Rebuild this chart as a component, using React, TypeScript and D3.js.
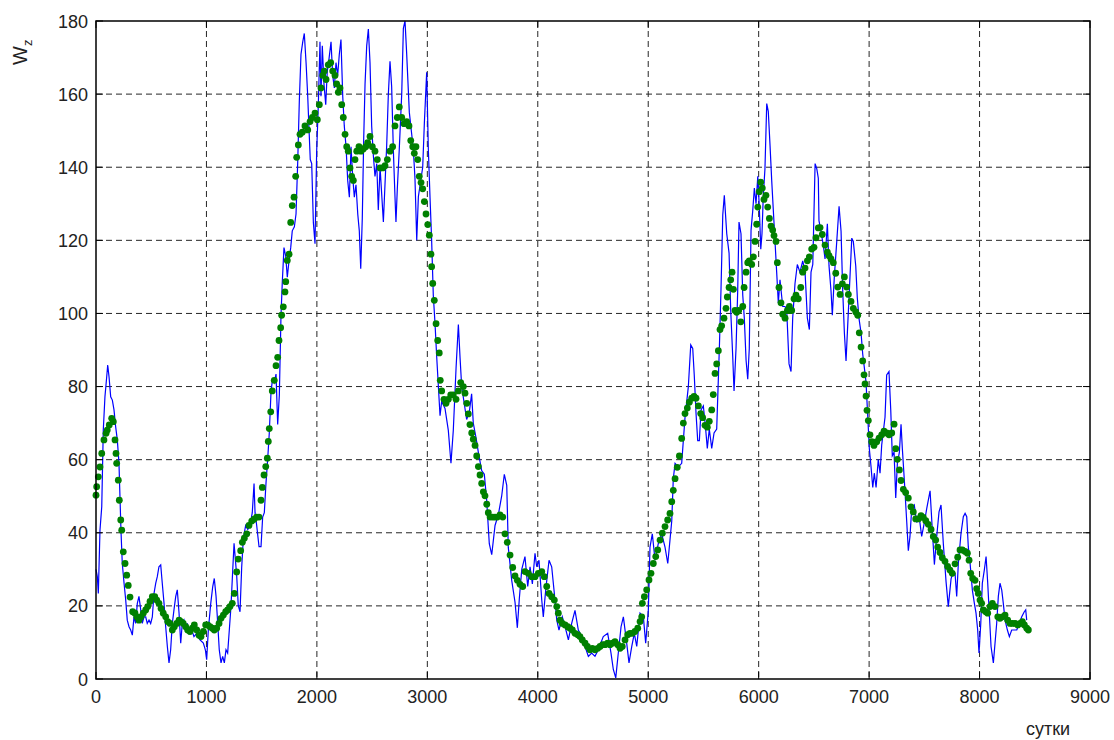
import React from 'react';
import * as d3 from 'd3';

// Blue series: [day, Wz]
const blueSeries: [number, number][] = [
[0,30],[12,28],[21,23.4],[36,40.7],[52,47.1],[66,68.1],[81,77.2],[97,82.7],[106,85.9],[118,82.7],[133,77.2],[148,76.3],[163,73.6],[178,69],[193,65.4],[208,59],[217,49.9],[226,40.7],[238,31.6],[254,26.2],[269,21.6],[283,16.1],[299,14.3],[314,13.4],[329,12],[344,17],[359,15.2],[374,20.7],[389,22.6],[405,18.9],[419,15.2],[435,17],[450,17],[464,15.2],[480,16.1],[495,15.2],[510,17],[525,23.4],[541,26.2],[555,28],[570,30.7],[586,31.2],[600,26.2],[616,20.7],[631,14.3],[646,8.9],[661,4.4],[676,8],[691,15.2],[706,18.9],[722,22.6],[736,24.4],[752,18],[767,9.8],[781,15.2],[797,16.1],[812,13.4],[827,15.2],[842,12.5],[867,13.4],[887,11.6],[912,12.5],[942,10.7],[972,9.8],[990,8],[1002,5.3],[1017,13.4],[1039,20.7],[1057,25.3],[1071,27.5],[1087,22.6],[1102,15.2],[1116,8],[1132,4.4],[1147,6.2],[1162,4.4],[1177,8],[1192,7.1],[1207,13.4],[1222,19.8],[1238,29.8],[1250,37.1],
[1274,28.2],[1288,20.1],[1304,18.4],[1319,30.5],[1334,38.5],[1355,42],[1374,40.9],[1394,42],[1415,45.5],[1431,53.5],[1440,45.5],[1455,42],[1476,36.2],[1494,36.2],[1509,44.3],[1524,45.5],[1539,53.5],[1555,60.4],[1569,67.3],[1585,78.8],[1600,82.3],[1614,81.1],[1630,83.4],[1645,69.6],[1660,77.7],[1675,99.5],[1687,108.7],[1702,118],[1718,115.6],[1732,109.9],[1748,114.5],[1763,118],[1777,122.6],[1796,123.7],[1811,127.2],[1826,141],[1841,158.2],[1856,170.9],[1872,174.3],[1886,176.6],[1902,168.6],[1917,159.4],[1929,150.2],[1940,142.1],[1953,141],[1968,124.9],[1983,119.1],[1998,144.4],[2013,157.1],[2028,174.3],[2037,159.4],[2049,173.2],[2064,162.8],[2080,157.1],[2094,166.3],[2110,169.7],[2128,174.3],[2143,165.1],[2158,161.7],[2173,168.6],[2188,165.1],[2203,170.9],[2218,174.9],[2234,159.4],[2248,151.3],[2264,145.6],[2279,136.4],[2294,131.8],[2309,145.6],[2324,137.5],[2339,131.8],[2354,135.2],[2370,127.2],[2384,122.6],[2397,112.2],[2411,126],[2424,147.9],[2436,162.8],[2451,173.2],[2466,177.8],[2481,168.6],[2496,151.3],[2511,143.3],[2526,137.5],[2542,141],[2556,128.3],
[2572,140],[2602,125],[2632,146],[2647,160],[2662,169],[2677,162],[2692,145],[2707,132],[2716,125],[2728,134],[2746,145],[2768,160],[2783,178],[2798,180],[2813,171],[2837,155],[2873,145],[2888,137],[2904,120],[2919,132],[2958,140],[2973,152],[2994,166],[3009,145],[3024,132],[3039,120],[3054,105],[3070,97],[3085,88],[3100,80],[3115,72],[3130,76],[3160,74],[3190,68],[3214,59],[3235,68],[3260,85],[3281,97],[3296,88],[3311,80],[3341,74],[3356,71],[3380,73],[3401,78],[3416,70],[3441,66],[3462,62],[3492,57],[3516,56],[3537,49],[3561,37],[3583,34],[3613,42],[3643,45],[3673,50],[3697,56],[3719,53],[3733,36],[3764,27],[3794,21],[3815,14],[3833,22],[3855,30],
[3884,33.5],[3909,25.3],[3930,30.7],[3951,26],[3975,34.4],[3990,30.7],[4011,32.5],[4036,21.6],[4050,17],[4072,24.4],[4102,32.5],[4126,30.7],[4150,23.4],[4172,16.1],[4192,13.4],[4222,17],[4247,14.3],[4277,10.7],[4307,15.2],[4337,18.8],[4367,13.4],[4398,11.6],[4428,8.9],[4458,6.2],[4488,7.1],[4518,6.2],[4548,8],[4593,11.6],[4633,12.5],[4663,7.1],[4684,2.6],[4706,0.3],[4729,7.1],[4754,14.3],[4775,17],[4805,9.8],[4826,4.4],[4851,8.9],[4874,12.5],[4896,8.9],[4926,18],[4956,17],[4977,9.8],[5001,18.8],[5016,36.1],[5037,39.7],[5062,32.5],[5091,37],[5122,39.7],[5152,36.1],[5177,31.6],
[5197,38],[5213,43.2],[5227,54.8],[5243,59],[5273,58],[5303,59],[5333,71.5],[5363,79.9],[5385,91.4],[5403,90.4],[5417,83],[5433,72.6],[5448,65.2],[5463,65.2],[5478,73.6],[5499,74.7],[5517,69.4],[5535,63.1],[5553,68.4],[5575,63.1],[5596,67.3],[5620,68.4],[5644,90.4],[5659,106.6],[5675,127],[5689,132.3],[5711,121.8],[5732,116.5],[5747,100.8],[5765,88.3],[5777,78.8],[5795,90.4],[5810,106],[5822,125],[5840,121.8],[5856,105],[5870,98.7],[5886,87.2],[5901,82],[5915,90.4],[5931,122.8],[5946,128],[5961,134.3],[5976,130],[5992,137.5],[6006,129],[6019,117.6],[6030,121.8],[6042,132.3],[6057,139.6],[6073,157.4],[6087,155.3],[6103,145.9],[6118,136.4],[6133,128],[6148,119.7],[6163,111.3],[6178,102.9],[6193,109.2],[6218,101.9],[6239,101.9],[6254,100.8],[6275,86.2],[6293,84.1],[6308,98.7],[6329,108.2],[6350,113.4],[6374,111.3],[6399,114.4],[6420,111.3],[6441,98.7],[6459,95.6],[6474,111.3],[6490,113.4],[6511,141],[6526,139.6],
[6540,137],[6546,125.4],[6564,122.5],[6585,118.7],[6601,114.9],[6622,124.5],[6637,113],[6655,106.2],[6667,99.5],[6685,110],[6707,119.7],[6728,129.3],[6746,122.5],[6761,106.2],[6776,94.7],[6791,87],[6806,96.6],[6821,106.2],[6843,120.6],[6857,119.7],[6879,113],[6893,104.3],[6909,98.5],[6927,94.7],[6942,88.9],[6957,85.1],[6972,81.2],[6988,71.6],[7002,63],[7017,58.2],[7033,52.4],[7047,56.3],[7063,52.4],[7083,60.1],[7099,56.3],[7114,64],[7129,67.8],[7144,71.6],[7159,83.2],[7180,84.1],[7196,73.5],[7210,61.1],[7226,62],[7241,49.5],[7256,59.1],[7274,62],[7289,69.7],[7301,63],[7319,54.3],[7341,42.8],[7355,35.1],[7370,39],[7386,46.7],[7409,47.6],[7431,42.8],[7452,44.7],[7476,39],[7500,42.8],[7522,46.7],[7552,51.5],[7572,40.9],[7591,31.3],[7612,39],[7633,45.7],[7651,47.6],[7672,37],[7697,26.5],[7717,19.8],[7742,27.4],[7763,29.4],
[7778,28.9],[7793,22.6],[7808,31.7],[7832,39.8],[7853,44.4],[7869,45.3],[7884,44.4],[7898,36.2],[7914,31.7],[7935,24.3],[7953,20.7],[7968,18],[7983,13.4],[7995,7.1],[8011,15.2],[8025,26.2],[8043,29.8],[8059,33.5],[8074,26.2],[8088,18],[8104,8.9],[8125,4.4],[8140,9.8],[8155,15.2],[8170,22.6],[8185,26.2],[8201,24.3],[8215,20.7],[8231,16.1],[8252,13.4],[8270,11.6],[8291,13.4],[8315,13.4],[8337,13.4],[8360,15.2],[8382,17],[8405,18.4],[8418,18.9],[8427,16.1]
];

// Green smoothed series: [day, Wz]
const greenSeries: [number, number][] = [
[0,50.3],[6,52.6],[21,55.3],[36,58],[52,61.7],[72,65.4],[91,67.2],[102,68.1],[120,69.5],[142,71.3],[157,70.4],[172,65.4],[181,61.7],[187,59],[202,54.4],[211,48.9],[224,43.5],[233,40.7],[247,34.8],[263,31.6],[278,28.4],[292,25.6],[308,22.4],[332,18.4],[353,18],[369,17],[389,16.1],[407,17],[428,18],[450,18.9],[468,19.8],[489,21.2],[510,22.5],[532,22.5],[550,21.6],[570,20.7],[589,19.3],[609,18],[631,17],[649,15.7],[670,15.2],[691,13.4],[709,14.3],[731,15.2],[752,16.1],[770,15.7],[790,15.2],[812,14.3],[830,13.4],[851,13],[872,13.9],[890,14.8],[912,13.4],[933,12],[951,11.6],[972,13],[993,14.8],[1011,14.8],[1032,14.3],[1053,13.9],[1071,13.4],[1093,13.9],[1114,15.2],[1132,16.6],[1153,17.5],[1174,18.4],[1192,18.9],[1213,19.8],[1234,20.7],[1252,23.4],
[1274,29.3],[1288,32.8],[1310,35.1],[1325,37.4],[1343,38.5],[1365,39.7],[1385,42],[1410,43.2],[1431,43.7],[1455,44.3],[1476,44.3],[1494,48.9],[1506,52.4],[1521,55.8],[1537,58.1],[1551,60.4],[1560,65],[1569,68.5],[1582,73.1],[1596,78.8],[1614,81.7],[1630,85.7],[1645,88],[1657,92.6],[1672,96.1],[1681,99.5],[1696,101.8],[1711,105.9],[1718,108.7],[1732,114.5],[1748,116.2],[1763,124.9],[1777,129.5],[1793,131.8],[1808,137.5],[1817,142.7],[1832,146.1],[1847,149],[1868,149.6],[1892,151.3],[1917,150.2],[1938,152.5],[1959,153.6],[1983,154.8],[2004,153],[2022,157.1],[2037,161.7],[2053,165.1],[2067,166.3],[2083,164],[2103,168],[2125,168.6],[2143,166.3],[2164,165.1],[2179,162.8],[2194,160.5],[2209,161.7],[2225,157.1],[2239,153.6],[2255,149],[2270,145.6],[2284,144.4],[2300,139.8],[2315,137.5],[2330,136.4],[2345,142.1],[2361,144.4],[2381,145.6],[2399,144.4],[2420,145],[2442,145.6],[2460,146.7],[2481,148.4],[2502,145.6],[2526,144.4],[2547,142.1],
[2572,139.8],[2596,139.8],[2617,140.4],[2638,142.1],[2662,144.4],[2686,145.6],[2707,151.3],[2728,153.6],[2746,156.5],[2768,153.6],[2789,151.9],[2813,152.5],[2834,151.3],[2850,147.3],[2868,145.6],[2882,143.8],[2897,145.6],[2913,142.1],[2927,137.5],[2943,135.8],[2958,134.1],[2973,130.6],[2988,127.2],[3004,124.3],[3018,121.4],[3033,116.2],[3039,112.8],[3049,108.2],[3063,103.6],[3079,97.2],[3094,92.6],[3108,89.2],[3117,81.7],[3130,78.8],[3151,76.5],[3169,75.4],[3190,76.5],[3212,77.7],[3235,77.7],[3260,76.5],[3281,78.8],[3302,81.1],[3326,80],[3341,78.2],[3357,75.4],[3371,72.5],[3386,69.6],[3402,67.3],[3416,65.6],[3432,63.9],[3447,61],[3462,58.1],[3477,55.8],[3492,53.5],[3507,51.2],[3522,50.1],[3538,47.8],[3552,45.5],[3568,44.3],[3592,44.3],[3613,44.3],[3634,44.3],[3658,44.9],[3683,44.3],[3703,39.7],[3724,37.4],[3749,33.9],[3773,30.5],[3794,28.2],[3815,27],[3839,25.9],[3864,25.3],
[3884,29.4],[3914,28.9],[3945,28],[3975,28],[4005,28.9],[4036,29.4],[4059,28],[4081,25.3],[4102,23.4],[4126,22.5],[4150,21.6],[4172,19.8],[4186,18],[4201,16.1],[4222,15.2],[4247,14.8],[4271,14.3],[4292,13.9],[4313,13.4],[4337,12.5],[4362,12.1],[4382,11.6],[4403,10.7],[4428,9.8],[4449,8.9],[4473,8],[4494,8.4],[4518,8],[4543,8.4],[4564,8.9],[4588,9.4],[4609,9.4],[4633,9.8],[4654,9.4],[4675,9.8],[4699,10.2],[4724,9.4],[4745,8.4],[4765,8.9],[4790,10.7],[4814,12.1],[4835,12.5],[4856,12.5],[4880,13],[4905,13.9],[4926,15.7],[4941,17],[4947,20.7],[4965,22.5],[4986,24.4],[5007,27.1],[5025,28.9],[5046,31.6],[5068,33.5],[5086,35.3],[5107,38],[5128,39.9],[5152,41.7],[5176,43.5],
[5197,45.3],[5213,48.5],[5227,51.6],[5243,54.8],[5263,57.9],[5282,61],[5303,65.8],[5318,70],[5333,72.6],[5354,74.1],[5372,75.7],[5394,76.8],[5415,77.3],[5433,76.8],[5454,74.7],[5475,72.6],[5493,71.5],[5514,69.4],[5535,68.9],[5553,70.5],[5575,73.6],[5589,77.8],[5605,83.6],[5620,86.2],[5635,89.8],[5650,95.6],[5665,96.6],[5686,98.7],[5704,101.4],[5716,104.5],[5732,107.1],[5747,109.2],[5759,111.3],[5771,106.6],[5786,100.8],[5801,100.3],[5819,100.8],[5838,97.7],[5856,101.9],[5868,107.1],[5886,111.3],[5901,113.9],[5915,114.4],[5937,113.4],[5952,115.5],[5967,119.7],[5982,124.4],[5992,129.1],[6006,133.3],[6019,135.9],[6033,134.3],[6048,131.2],[6066,132.3],[6082,129.1],[6097,126],[6112,123.9],[6127,122.8],[6139,121.3],[6157,119.7],[6169,113.9],[6184,107.1],[6202,102.9],[6218,99.8],[6239,98.7],[6260,100.8],[6278,101.9],[6299,100.8],[6320,104],[6338,105],[6359,104],[6381,107.1],[6399,111.3],[6420,112.4],[6441,114.4],[6459,115.5],[6480,117.6],[6501,118.1],[6519,120.7],[6540,123.4],
[6556,123.5],[6576,121.6],[6601,118.7],[6622,116.8],[6637,115.8],[6655,114.9],[6676,113.9],[6698,111],[6716,107.2],[6737,105.2],[6758,108.1],[6776,110],[6797,107.2],[6812,105.2],[6836,103.3],[6857,101.4],[6879,100.4],[6897,99.5],[6911,94.7],[6927,90.8],[6942,87],[6954,83.2],[6963,80.7],[6972,77.4],[6981,73.5],[6993,70.7],[7008,66.8],[7024,64.9],[7044,63.9],[7069,64.9],[7090,65.9],[7114,66.8],[7135,67.8],[7159,67.3],[7180,66.8],[7205,67.3],[7226,69.7],[7241,63],[7256,60.1],[7274,57.2],[7289,54.3],[7310,51.9],[7331,51],[7355,49.5],[7379,47.1],[7400,45.7],[7422,43.8],[7446,43.8],[7470,44.7],[7491,44.2],[7513,43.3],[7536,42.3],[7561,40.9],[7581,39],[7603,38],[7621,36.1],[7642,34.6],[7663,33.2],[7687,32.2],[7711,30.8],[7732,29.8],[7753,28.9],
[7778,31.5],[7802,33.3],[7823,35.3],[7844,35.3],[7869,34.9],[7890,34.4],[7905,32.5],[7920,28.9],[7938,27.5],[7959,27],[7974,24.7],[7989,23.4],[8004,21.6],[8019,20.7],[8034,18.9],[8056,18.4],[8074,18],[8095,19.8],[8116,20.7],[8140,19.8],[8165,17],[8185,16.6],[8206,17],[8231,17.5],[8255,16.1],[8276,15.2],[8297,15.2],[8321,15.2],[8346,14.8],[8367,15.2],[8388,15.7],[8406,14.8],[8427,13.9],[8442,13.4]
];

const xTicks = [0, 1000, 2000, 3000, 4000, 5000, 6000, 7000, 8000, 9000];
const yTicks = [0, 20, 40, 60, 80, 100, 120, 140, 160, 180];
const xLabel = 'сутки';

export default function App() {
  const width = 1114;
  const height = 740;
  const left = 96, right = 1090, top = 21, bottom = 679;
  const x = d3.scaleLinear().domain([0, 9000]).range([left, right]);
  const y = d3.scaleLinear().domain([0, 180]).range([bottom, top]);
  const line = d3.line<[number, number]>().x(d => x(d[0])).y(d => y(d[1]));
  const font = '"Liberation Sans", Arial, sans-serif';
  const gridColor = '#262626';
  const tick = 7;

  return (
    <svg width={width} height={height} style={{ position: 'absolute', left: 0, top: 0, background: '#fff' }}>
      <rect x={0} y={0} width={width} height={height} fill="#fff" />
      {/* grid */}
      {xTicks.filter(t => t > 0 && t < 9000).map(t => (
        <line key={'gx' + t} x1={x(t)} x2={x(t)} y1={top} y2={bottom} stroke={gridColor} strokeWidth={1} strokeDasharray="6,4" />
      ))}
      {yTicks.filter(t => t > 0 && t < 180).map(t => (
        <line key={'gy' + t} x1={left} x2={right} y1={y(t)} y2={y(t)} stroke={gridColor} strokeWidth={1} strokeDasharray="6,4" />
      ))}
      {/* blue series */}
      <path d={line(blueSeries) || ''} fill="none" stroke="#0000ff" strokeWidth={1.2} strokeLinejoin="miter" />
      {/* green series */}
      {greenSeries.map((d, i) => (
        <circle key={'g' + i} cx={x(d[0])} cy={y(d[1])} r={3.4} fill="#008000" />
      ))}
      {/* frame and ticks */}
      <rect x={left} y={top} width={right - left} height={bottom - top} fill="none" stroke="#000" strokeWidth={1.5} />
      {xTicks.map(t => (
        <g key={'tx' + t}>
          <line x1={x(t)} x2={x(t)} y1={bottom} y2={bottom - tick} stroke="#000" strokeWidth={1} />
          <line x1={x(t)} x2={x(t)} y1={top} y2={top + tick} stroke="#000" strokeWidth={1} />
          <text x={x(t)} y={703} textAnchor="middle" fontFamily={font} fontSize={18} fill="#222">{t}</text>
        </g>
      ))}
      {yTicks.map(t => (
        <g key={'ty' + t}>
          <line x1={left} x2={left + tick} y1={y(t)} y2={y(t)} stroke="#000" strokeWidth={1} />
          <line x1={right} x2={right - tick} y1={y(t)} y2={y(t)} stroke="#000" strokeWidth={1} />
          <text x={88} y={y(t) + 6.5} textAnchor="end" fontFamily={font} fontSize={18} fill="#222">{t}</text>
        </g>
      ))}
      {/* axis labels */}
      <text x={1048} y={735} textAnchor="middle" fontFamily={font} fontSize={18} fill="#222">{xLabel}</text>
      <text transform="translate(27,65) rotate(-90)" fontFamily={font} fontSize={20} fill="#222">
        W<tspan fontSize={13} dy={5}>z</tspan>
      </text>
    </svg>
  );
}
